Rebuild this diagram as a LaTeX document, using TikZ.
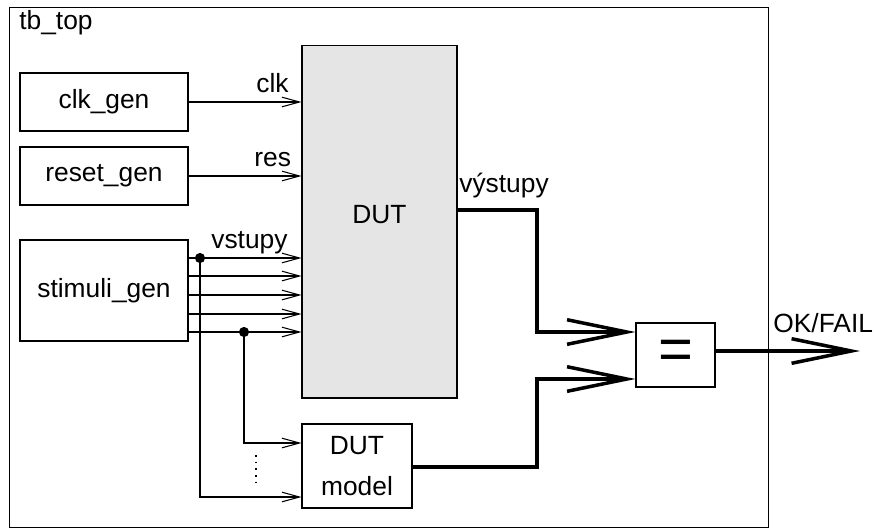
\documentclass[tikz,border=0pt]{standalone}
\usepackage{fontspec}
\setmainfont{Liberation Sans}
\usepackage{tikz}
\usetikzlibrary{
    arrows.meta
}
\tikzset{
    block/.style={
        draw,
        line width=0.6pt,
        inner sep=0pt,
        align=center,
        font=\fontsize{15}{23}\selectfont
    },
    sig/.style={
        line width=0.6pt,
        -{Straight Barb[length=10pt,width=5.5pt]}
    },
    bus/.style={
        line width=2pt,
        -{Straight Barb[length=34pt,width=14pt]}
    },
    lbl/.style={
        anchor=base west,
        inner sep=0pt,
        font=\fontsize{15}{18}\selectfont
    }
}

\begin{document}
\begin{tikzpicture}[
    x=0.02cm,
    y=-0.02cm
]
    \useasboundingbox (0,0) rectangle (874,531);

    % Bloky
    \node[block, minimum width=15.2cm, minimum height=10.42cm]  (tb)    at (389,267.5) {};
    \node[lbl]                                                  (tbl)   at (19,29)     {tb\_top};

    \node[block, minimum width=3.36cm, minimum height=1.16cm]   (clk)   at (104,102)   {clk\_gen};
    \node[block, minimum width=3.36cm, minimum height=1.16cm]   (rst)   at (104,176)   {reset\_gen};
    \node[block, minimum width=3.36cm, minimum height=2.02cm]   (stim)  at (104,290.5) {stimuli\_gen};

    \node[block, fill=gray!20, minimum width=3.1cm, minimum height=7.06cm, text depth=8pt]
                                                                (dut)   at (379.5,221.5) {DUT};
    \node[block, minimum width=2.2cm, minimum height=1.68cm]    (model) at (357,466)   {DUT\\model};
    \node[block, minimum width=1.58cm, minimum height=1.28cm,
          font=\fontsize{34}{34}\selectfont]                    (cmp)   at (675.5,355) {=};

    % Body
    \coordinate (j1) at (200,258);
    \coordinate (j2) at (244,332);
    \coordinate (o1) at (537,210);
    \coordinate (o2) at (537,467);
    \coordinate (ok) at (860,351);

    % Hodiny a reset
    \draw[sig] (clk) -- (clk -| dut.west);
    \draw[sig] (rst) -- (rst -| dut.west);
    \node[lbl] (clkl) at (256,92)  {clk};
    \node[lbl] (rstl) at (254,166) {res};

    % Vstupy
    \foreach \y in {258,276,295,314,332}
        \draw[sig] (stim.east |- 0,\y) -- (dut.west |- 0,\y);
    \node[lbl] (inl) at (211,248) {vstupy};

    \fill (j1) circle (2.9pt);
    \fill (j2) circle (2.9pt);
    \draw[sig] (j1) |- (model.west |- 0,497);
    \draw[sig] (j2) |- (model.west |- 0,443);
    \draw[line width=1pt, dash pattern=on 1pt off 2.8pt] (256,455) -- (256,487);

    % Vystupy
    \draw[bus] (dut.east |- o1) -- (o1) |- (cmp.west |- 0,332);
    \draw[bus] (model.east |- o2) -- (o2) |- (cmp.west |- 0,379);
    \node[lbl] (outl) at (459,192) {výstupy};

    \draw[bus] (cmp.east |- ok) -- (ok);
    \node[lbl] (okl) at (773,332) {OK/FAIL};

\end{tikzpicture}
\end{document}
